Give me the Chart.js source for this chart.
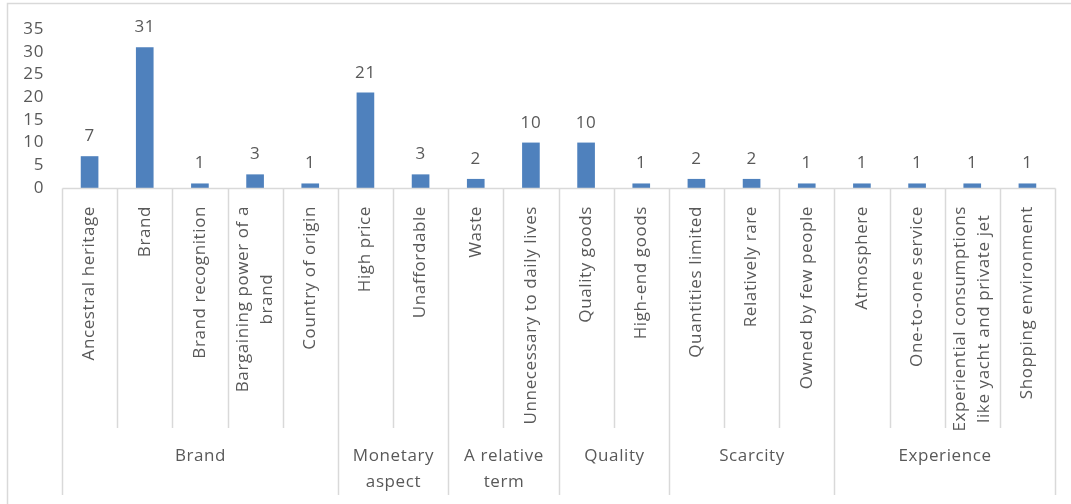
<!DOCTYPE html>
<html>
<head>
<meta charset="utf-8">
<script src="https://cdn.jsdelivr.net/npm/chart.js@4/dist/chart.umd.min.js"></script>
<style>
html, body { margin: 0; padding: 0; background: #fff; }
</style>
</head>
<body>
<canvas id="chart" width="1071" height="504"></canvas>
<script>
// data
var categories = [
    'Ancestral heritage', 'Brand', 'Brand recognition', ['Bargaining power of a', 'brand'], 'Country of origin',
    'High price', 'Unaffordable',
    'Waste', 'Unnecessary to daily lives',
    'Quality goods', 'High-end goods',
    'Quantities limited', 'Relatively rare', 'Owned by few people',
    'Atmosphere', 'One-to-one service', ['Experiential consumptions', 'like yacht and private jet'], 'Shopping environment'
];
var values = [7, 31, 1, 3, 1, 21, 3, 2, 10, 10, 1, 2, 2, 1, 1, 1, 1, 1];
var groupLabels = [['Brand'], ['Monetary', 'aspect'], ['A relative', 'term'], ['Quality'], ['Scarcity'], ['Experience']];
var groupSizes = [5, 2, 2, 2, 3, 4];
var yTicks = [0, 5, 10, 15, 20, 25, 30, 35];

var textColor = '#595959';
var lineColor = '#d9d9d9';
var fontFamily = '"Open Sans", sans-serif';
var fontSize = 17;

var multiAxis = {
    id: 'multiAxis',
    beforeDraw: function(chart) {
        var ctx = chart.ctx;
        ctx.save();
        ctx.strokeStyle = lineColor;
        ctx.lineWidth = 1.5;
        ctx.strokeRect(7.5, 3.5, 1100, 530);
        ctx.restore();
        ctx.letterSpacing = '0.6px';
    },
    afterDatasetsDraw: function(chart) {
        var ctx = chart.ctx;
        var meta = chart.getDatasetMeta(0);
        ctx.save();
        ctx.fillStyle = textColor;
        ctx.font = fontSize + 'px ' + fontFamily;
        ctx.textAlign = 'center';
        ctx.textBaseline = 'alphabetic';
        meta.data.forEach(function(bar, i) {
            ctx.fillText(String(values[i]), bar.x, bar.y - 15);
        });
        ctx.restore();
    },
    afterDraw: function(chart) {
        var ctx = chart.ctx;
        var xs = chart.scales.x;
        var area = chart.chartArea;
        var step = xs.getPixelForValue(1) - xs.getPixelForValue(0);
        var axisY = Math.round(area.bottom) + 0.5;
        var edge = function(i) { return Math.round(xs.getPixelForValue(i) - step / 2) + 0.5; };

        // group boundaries
        var bounds = [0];
        groupSizes.forEach(function(s) { bounds.push(bounds[bounds.length - 1] + s); });

        ctx.save();
        ctx.strokeStyle = lineColor;
        ctx.lineWidth = 1.5;
        ctx.beginPath();
        ctx.moveTo(edge(0), axisY);
        ctx.lineTo(edge(categories.length), axisY);
        for (var i = 0; i <= categories.length; i++) {
            var isGroup = bounds.indexOf(i) >= 0;
            ctx.moveTo(edge(i), axisY);
            ctx.lineTo(edge(i), isGroup ? 495 : 428);
        }
        ctx.stroke();

        ctx.fillStyle = textColor;
        ctx.font = fontSize + 'px ' + fontFamily;

        // rotated category labels
        categories.forEach(function(label, i) {
            var lines = Array.isArray(label) ? label : [label];
            var cx = xs.getPixelForValue(i);
            ctx.save();
            ctx.translate(cx, 206);
            ctx.rotate(-Math.PI / 2);
            ctx.textBaseline = 'middle';
            ctx.textAlign = 'center';
            var maxW = 0;
            lines.forEach(function(l) { maxW = Math.max(maxW, ctx.measureText(l).width); });
            lines.forEach(function(l, j) {
                ctx.fillText(l, -maxW / 2, (j - (lines.length - 1) / 2) * 24);
            });
            ctx.restore();
        });

        // group labels
        ctx.textAlign = 'center';
        ctx.textBaseline = 'middle';
        groupLabels.forEach(function(lines, g) {
            var mid = (edge(bounds[g]) + edge(bounds[g + 1])) / 2;
            lines.forEach(function(l, j) {
                ctx.fillText(l, mid, 456 + j * 26);
            });
        });
        ctx.restore();
    }
};

var ctx = document.getElementById('chart').getContext('2d');
new Chart(ctx, {
    type: 'bar',
    data: {
        labels: categories,
        datasets: [{
            label: 'Count',
            data: values,
            backgroundColor: '#4f81bd',
            barPercentage: 0.32,
            categoryPercentage: 1
        }]
    },
    options: {
        responsive: false,
        animation: false,
        layout: { padding: { top: 29, right: 16, bottom: 316, left: 0 } },
        plugins: {
            legend: { display: false },
            tooltip: { enabled: false }
        },
        scales: {
            x: { display: false },
            y: {
                min: 0,
                max: 35,
                afterBuildTicks: function(scale) {
                    scale.ticks = yTicks.map(function(v) { return { value: v }; });
                },
                afterFit: function(scale) { scale.width = 62; },
                grid: { display: false, drawTicks: false },
                border: { display: false },
                ticks: {
                    autoSkip: false,
                    padding: 18,
                    color: textColor,
                    font: { family: fontFamily, size: fontSize }
                }
            }
        }
    },
    plugins: [multiAxis]
});
</script>
</body>
</html>
